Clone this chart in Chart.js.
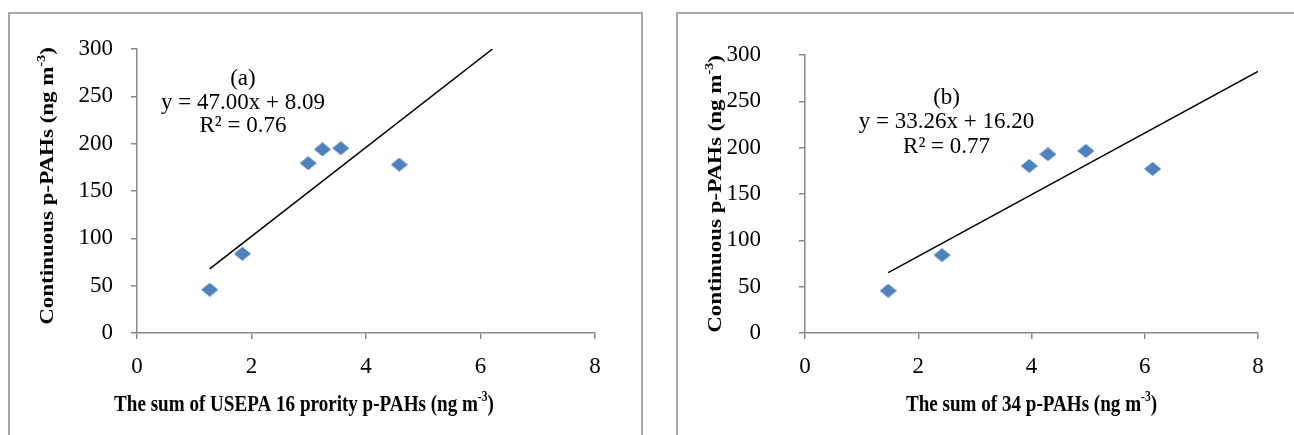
<!DOCTYPE html>
<html>
<head>
<meta charset="utf-8">
<script src="https://cdn.jsdelivr.net/npm/chart.js@4.4.0/dist/chart.umd.min.js"></script>
<style>
  body { margin: 0; width: 1294px; height: 435px; overflow: hidden; background: #fff; position: relative; }
  .frame { position: absolute; border: 2px solid #a8a8a8; box-sizing: border-box; }
  #frameA { left: 8px; top: 12px; width: 635px; height: 440px; }
  #frameB { left: 676px; top: 12px; width: 640px; height: 440px; }
  canvas { position: absolute; top: 0; }
  #chartA { left: 0; }
  #chartB { left: 650px; }
</style>
</head>
<body>
<div class="frame" id="frameA"></div>
<div class="frame" id="frameB"></div>
<canvas id="chartA" width="645" height="435"></canvas>
<canvas id="chartB" width="644" height="435"></canvas>
<script>
// (a) sum of USEPA 16 priority p-PAHs vs continuous p-PAHs
const sum16 = [1.27, 1.84, 2.99, 3.24, 3.56, 4.58];
const contA = [45.7, 83.7, 179.4, 194.0, 195.2, 177.9];
const trendAX = [1.27, 6.21];
const trendAY = [67.8, 300];
const notesA = ["(a)", "y = 47.00x + 8.09", "R\u00b2 = 0.76"];

// (b) sum of 34 p-PAHs vs continuous p-PAHs
const sum34 = [1.47, 2.42, 3.96, 4.29, 4.96, 6.14];
const contB = [45.6, 84.1, 180.3, 192.9, 196.5, 177.1];
const trendBX = [1.47, 8];
const trendBY = [65.1, 282.3];
const notesB = ["(b)", "y = 33.26x + 16.20", "R\u00b2 = 0.77"];

const xTicks = [0, 2, 4, 6, 8];
const yTicks = [0, 50, 100, 150, 200, 250, 300];

const serif = "'Liberation Serif', 'Times New Roman', serif";
const axisGray = "#8a8a8a";

// little diamond like the excel marker (a bit wider than tall)
function diamond(w, h, color) {
  const c = document.createElement("canvas");
  c.width = w;
  c.height = h;
  const g = c.getContext("2d");
  g.fillStyle = color;
  g.beginPath();
  g.moveTo(w / 2, 0);
  g.lineTo(w, h / 2);
  g.lineTo(w / 2, h);
  g.lineTo(0, h / 2);
  g.closePath();
  g.fill();
  return c;
}
const marker = diamond(17, 14, "#4f81bd");

// draws text with a raised part, pieces = [[text, isSup], ...], centred on 0,0
function drawPieces(ctx, pieces, size) {
  const big = `bold ${size}px ${serif}`;
  const small = `bold ${Math.round(size * 0.62)}px ${serif}`;
  let total = 0;
  pieces.forEach(([t, sup]) => {
    ctx.font = sup ? small : big;
    total += ctx.measureText(t).width;
  });
  let x = -total / 2;
  ctx.textBaseline = "middle";
  ctx.textAlign = "left";
  pieces.forEach(([t, sup]) => {
    ctx.font = sup ? small : big;
    ctx.fillText(t, x, sup ? -size * 0.33 : 0);
    x += ctx.measureText(t).width;
  });
}

const panelText = {
  id: "panelText",
  afterDraw(chart, args, opts) {
    const ctx = chart.ctx;
    const area = chart.chartArea;
    const xs = chart.scales.x;
    const ys = chart.scales.y;
    ctx.save();
    ctx.fillStyle = "#000";

    // x title (the original type is narrow, so squeeze it a bit)
    ctx.save();
    ctx.translate((area.left + area.right) / 2 + opts.xShift, area.bottom + opts.xTitleGap);
    ctx.scale(opts.squeeze, 1);
    drawPieces(ctx, opts.xTitle, opts.titleSize);
    ctx.restore();

    // y title
    ctx.save();
    ctx.translate(area.left - opts.yTitleGap, (area.top + area.bottom) / 2 + opts.yShift);
    ctx.scale(opts.squeeze, 1);
    ctx.rotate(-Math.PI / 2);
    drawPieces(ctx, opts.yTitle, opts.titleSize);
    ctx.restore();

    // trendline equation
    ctx.font = `${opts.noteSize}px ${serif}`;
    ctx.textAlign = "center";
    ctx.textBaseline = "middle";
    opts.notes.forEach((t, i) => {
      ctx.fillText(t, xs.getPixelForValue(opts.noteX), ys.getPixelForValue(opts.noteY[i]));
    });
    ctx.restore();
  },
};

function makeChart(id, xs, ys, tx, ty, o) {
  const ctx = document.getElementById(id);
  const pts = xs.map((x, i) => ({ x: x, y: ys[i] }));
  const line = tx.map((x, i) => ({ x: x, y: ty[i] }));

  return new Chart(ctx, {
    type: "scatter",
    data: {
      datasets: [
        {
          data: line,
          showLine: true,
          borderColor: "#000",
          borderWidth: 1.5,
          pointRadius: 0,
          order: 2,
        },
        {
          data: pts,
          pointStyle: marker,
          pointRadius: 8,
          order: 1,
        },
      ],
    },
    options: {
      responsive: false,
      animation: false,
      events: [],
      layout: { padding: { top: o.top, right: o.right, left: 0, bottom: 0 } },
      plugins: {
        legend: { display: false },
        tooltip: { enabled: false },
        panelText: o.text,
      },
      scales: {
        x: {
          type: "linear",
          min: 0,
          max: 8,
          afterBuildTicks: (s) => { s.ticks = xTicks.map((v) => ({ value: v })); },
          afterFit: (s) => { s.height = o.xHeight; },
          ticks: { color: "#000", padding: 14, font: { family: serif, size: 23 } },
          grid: { drawOnChartArea: false, drawTicks: true, tickLength: 6, color: axisGray, lineWidth: 1.5 },
          border: { color: axisGray, width: 1.5 },
        },
        y: {
          type: "linear",
          min: 0,
          max: 300,
          afterBuildTicks: (s) => { s.ticks = yTicks.map((v) => ({ value: v })); },
          afterFit: (s) => { s.width = o.yWidth; },
          ticks: { color: "#000", padding: o.yPad, font: { family: serif, size: 23 } },
          grid: { drawOnChartArea: false, drawTicks: true, tickLength: 6, color: axisGray, lineWidth: 1.5 },
          border: { color: axisGray, width: 1.5 },
        },
      },
    },
    plugins: [panelText],
  });
}

const yTitle = [["Continuous p-PAHs (ng m", false], ["-3", true], [")", false]];

makeChart("chartA", sum16, contA, trendAX, trendAY, {
  top: 49, right: 50, xHeight: 102, yWidth: 137, yPad: 18,
  text: {
    titleSize: 23, noteSize: 23, squeeze: 0.83,
    xTitle: [["The sum of USEPA 16 prority p-PAHs (ng m", false], ["-3", true], [")", false]],
    xShift: -62, xTitleGap: 72,
    yTitle: yTitle, yTitleGap: 89, yShift: -5,
    notes: notesA, noteX: 1.85, noteY: [268, 243, 219],
  },
});

makeChart("chartB", sum34, contB, trendBX, trendBY, {
  top: 55, right: 36, xHeight: 102, yWidth: 155, yPad: 38,
  text: {
    titleSize: 23, noteSize: 23, squeeze: 0.83,
    xTitle: [["The sum of 34 p-PAHs (ng m", false], ["-3", true], [")", false]],
    xShift: 0, xTitleGap: 72,
    yTitle: yTitle, yTitleGap: 89, yShift: 0,
    notes: notesB, noteX: 2.5, noteY: [254, 228, 201],
  },
});
</script>
</body>
</html>
